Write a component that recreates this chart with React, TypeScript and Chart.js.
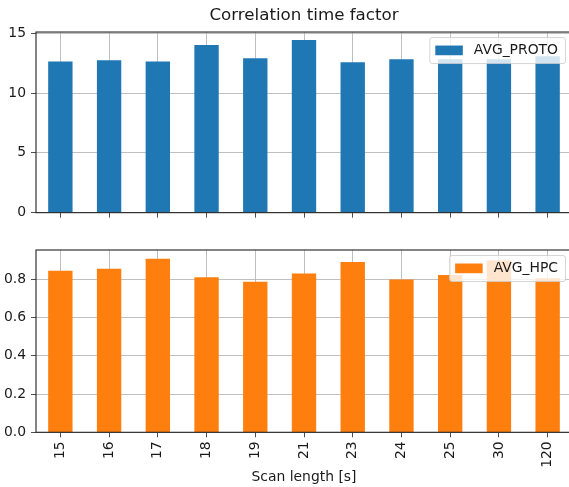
import React, { useEffect, useRef } from 'react';
import { Chart, registerables } from 'chart.js';

Chart.register(...registerables);

const categories = ['15', '16', '17', '18', '19', '21', '23', '24', '25', '30', '120'];
const avgProto = [12.63, 12.74, 12.63, 14.01, 12.9, 14.43, 12.57, 12.82, 12.82, 12.82, 13.07];
const avgHpc = [0.843, 0.854, 0.906, 0.81, 0.786, 0.829, 0.889, 0.798, 0.822, 0.897, 0.805];
const protoTicks = [0, 5, 10, 15];
const hpcTicks = [0, 0.2, 0.4, 0.6, 0.8];
const protoMax = 15.1;
const hpcMax = 0.952;
const titleText = 'Correlation time factor';
const xTitle = 'Scan length [s]';
const protoLabel = 'AVG_PROTO';
const hpcLabel = 'AVG_HPC';

const FONT = 'DejaVu Sans';
const FS = 13.9;
const BLUE = '#1f77b4';
const ORANGE = '#ff7f0e';
const GRID = '#b0b0b0';
const TEXT = '#1a1a1a';

const framePlugin = {
  id: 'frame',
  afterDraw(chart: any, _args: any, opts: any) {
    const { ctx, chartArea: a } = chart;
    ctx.save();
    // spines
    ctx.strokeStyle = '#222';
    ctx.lineWidth = 1.1;
    ctx.strokeRect(a.left, a.top, a.right - a.left, a.bottom - a.top);
    // legend
    ctx.font = `${FS}px "${FONT}"`;
    const tw = ctx.measureText(opts.label).width;
    const pad = 5.5;
    const hl = 27.5;
    const gap = 11;
    const boxW = pad + hl + gap + tw + pad + 2;
    const boxH = 26;
    const bx = a.right - 6.5 - boxW;
    const by = a.top + 5.5;
    ctx.beginPath();
    const r = 2.5;
    ctx.moveTo(bx + r, by);
    ctx.lineTo(bx + boxW - r, by);
    ctx.quadraticCurveTo(bx + boxW, by, bx + boxW, by + r);
    ctx.lineTo(bx + boxW, by + boxH - r);
    ctx.quadraticCurveTo(bx + boxW, by + boxH, bx + boxW - r, by + boxH);
    ctx.lineTo(bx + r, by + boxH);
    ctx.quadraticCurveTo(bx, by + boxH, bx, by + boxH - r);
    ctx.lineTo(bx, by + r);
    ctx.quadraticCurveTo(bx, by, bx + r, by);
    ctx.closePath();
    ctx.fillStyle = 'rgba(255,255,255,0.8)';
    ctx.fill();
    ctx.strokeStyle = 'rgba(204,204,204,0.8)';
    ctx.lineWidth = 1;
    ctx.stroke();
    const cy = by + boxH / 2;
    ctx.fillStyle = opts.color;
    ctx.fillRect(bx + pad, cy - 5, hl, 9.7);
    ctx.fillStyle = TEXT;
    ctx.textBaseline = 'middle';
    ctx.textAlign = 'left';
    ctx.fillText(opts.label, bx + pad + hl + gap, cy);
    ctx.restore();
  },
};

const gridOpts = {
  offset: false,
  color: GRID,
  lineWidth: 0.8,
  tickColor: '#222',
  tickLength: 5,
  drawTicks: true,
};

function topConfig(): any {
  return {
    type: 'bar',
    data: {
      labels: categories,
      datasets: [
        {
          label: protoLabel,
          data: avgProto,
          backgroundColor: BLUE,
          barPercentage: 0.5,
          categoryPercentage: 1,
        },
      ],
    },
    options: {
      animation: false,
      responsive: false,
      layout: { padding: { left: 0, right: 3, top: 0, bottom: 0 } },
      plugins: {
        legend: { display: false },
        tooltip: { enabled: false },
        title: {
          display: true,
          text: titleText,
          fullSize: false,
          color: TEXT,
          font: { family: FONT, size: 16.7, weight: 'normal', lineHeight: 1.2 },
          padding: { top: 6, bottom: 6 },
        },
        frame: { label: protoLabel, color: BLUE },
      },
      scales: {
        x: {
          z: 1,
          grid: gridOpts,
          border: { display: false },
          ticks: { display: false },
          afterFit: (s: any) => {
            s.height = 12.7;
          },
        },
        y: {
          z: 1,
          min: 0,
          max: protoMax,
          afterBuildTicks: (s: any) => {
            s.ticks = protoTicks.map((v) => ({ value: v }));
          },
          grid: gridOpts,
          border: { display: false },
          ticks: {
            font: { family: FONT, size: FS },
            color: TEXT,
            padding: 5,
            callback: (v: any) => String(v),
          },
          afterFit: (s: any) => {
            s.width = 36;
          },
        },
      },
    },
    plugins: [framePlugin],
  };
}

function bottomConfig(): any {
  return {
    type: 'bar',
    data: {
      labels: categories,
      datasets: [
        {
          label: hpcLabel,
          data: avgHpc,
          backgroundColor: ORANGE,
          barPercentage: 0.5,
          categoryPercentage: 1,
        },
      ],
    },
    options: {
      animation: false,
      responsive: false,
      layout: { padding: { left: 0, right: 3, top: 20, bottom: 0 } },
      plugins: {
        legend: { display: false },
        tooltip: { enabled: false },
        frame: { label: hpcLabel, color: ORANGE },
      },
      scales: {
        x: {
          z: 1,
          grid: gridOpts,
          border: { display: false },
          ticks: {
            font: { family: FONT, size: FS },
            color: TEXT,
            padding: 4,
            minRotation: 90,
            maxRotation: 90,
            autoSkip: false,
          },
          title: {
            display: true,
            text: xTitle,
            color: TEXT,
            font: { family: FONT, size: FS },
            padding: { top: 0, bottom: 1 },
          },
          afterFit: (s: any) => {
            s.height = 54.7;
          },
        },
        y: {
          z: 1,
          min: 0,
          max: hpcMax,
          afterBuildTicks: (s: any) => {
            s.ticks = hpcTicks.map((v) => ({ value: v }));
          },
          grid: gridOpts,
          border: { display: false },
          ticks: {
            font: { family: FONT, size: FS },
            color: TEXT,
            padding: 5,
            callback: (v: any) => Number(v).toFixed(1),
          },
          afterFit: (s: any) => {
            s.width = 36;
          },
        },
      },
    },
    plugins: [framePlugin],
  };
}

export default function App() {
  const topRef = useRef<HTMLCanvasElement | null>(null);
  const botRef = useRef<HTMLCanvasElement | null>(null);

  useEffect(() => {
    const c1 = new Chart(topRef.current as HTMLCanvasElement, topConfig());
    const c2 = new Chart(botRef.current as HTMLCanvasElement, bottomConfig());
    return () => {
      c1.destroy();
      c2.destroy();
    };
  }, []);

  return (
    <div
      style={{
        position: 'fixed',
        left: 0,
        top: 0,
        width: 569,
        height: 487,
        overflow: 'hidden',
        background: '#fff',
      }}
    >
      <canvas
        ref={topRef}
        width={575}
        height={226}
        style={{ position: 'absolute', left: 0, top: 0, width: 575, height: 226 }}
      />
      <canvas
        ref={botRef}
        width={575}
        height={257}
        style={{ position: 'absolute', left: 0, top: 230, width: 575, height: 257 }}
      />
    </div>
  );
}
